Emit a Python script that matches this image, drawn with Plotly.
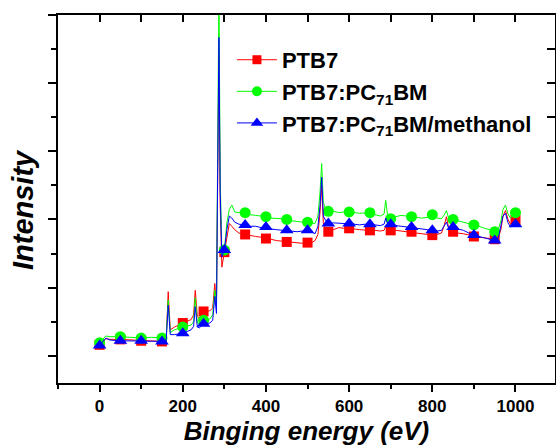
import plotly.graph_objects as go

# Binding energy grid (eV)
energy = [-5, 0, 15, 25, 50, 75, 100, 125, 150, 160, 165, 170, 180, 200, 220, 226, 230, 235, 240, 250,
          265, 272, 277, 281, 284, 287, 290, 294, 300, 306, 312, 318, 325, 335, 350, 362, 375, 388, 400,
          412, 425, 438, 450, 462, 475, 488, 500, 510, 518, 525, 530, 534, 538, 543, 550, 562, 575, 588,
          600, 612, 625, 638, 650, 662, 675, 684, 688, 692, 700, 712, 725, 738, 750, 762, 775, 788, 800,
          812, 822, 828, 834, 840, 850, 862, 875, 888, 900, 912, 925, 938, 950, 958, 965, 970, 976, 982,
          988, 994, 1000]

ptb7 = [0.16, 0.16, 0.25, 0.24, 0.24, 0.23, 0.22, 0.22, 0.21, 0.22, 0.94, 0.38, 0.42, 0.48, 0.53, 0.60,
        0.96, 0.58, 0.55, 0.65, 0.66, 0.70, 1.06, 0.75, 2.5, 4.4, 2.2, 1.30, 1.52, 1.75, 1.94, 1.90, 1.85,
        1.80, 1.78, 1.76, 1.75, 1.74, 1.72, 1.71, 1.69, 1.68, 1.67, 1.67, 1.66, 1.65, 1.66, 1.66, 1.69,
        1.78, 2.1, 2.5, 1.95, 1.86, 1.82, 1.85, 1.88, 1.87, 1.87, 1.86, 1.85, 1.84, 1.84, 1.84, 1.83, 1.84,
        1.90, 1.85, 1.84, 1.84, 1.83, 1.82, 1.82, 1.81, 1.80, 1.78, 1.77, 1.78, 1.80, 1.90, 2.04, 1.85,
        1.82, 1.80, 1.79, 1.77, 1.75, 1.74, 1.73, 1.72, 1.71, 1.72, 1.85, 2.05, 2.13, 2.0, 1.93, 1.96, 1.99]

ptb7_pcbm = [0.19, 0.19, 0.29, 0.28, 0.28, 0.27, 0.26, 0.27, 0.26, 0.27, 0.82, 0.34, 0.38, 0.42, 0.45,
             0.50, 0.85, 0.48, 0.47, 0.52, 0.54, 0.60, 0.96, 0.70, 3.0, 5.4, 2.6, 1.52, 1.55, 1.95, 2.15,
             2.21, 2.11, 2.10, 2.10, 2.07, 2.06, 2.05, 2.04, 2.02, 2.02, 2.01, 2.00, 1.98, 1.97, 1.96, 1.96,
             1.95, 1.94, 2.05, 2.4, 2.82, 2.25, 2.16, 2.12, 2.12, 2.10, 2.11, 2.11, 2.10, 2.09, 2.10, 2.10,
             2.07, 2.05, 2.08, 2.28, 2.08, 2.01, 2.04, 2.06, 2.05, 2.04, 2.03, 2.02, 2.03, 2.07, 2.02, 2.01,
             2.06, 2.13, 2.00, 2.00, 1.98, 1.96, 1.94, 1.92, 1.90, 1.87, 1.85, 1.82, 1.84, 1.98, 2.15, 2.21,
             2.08, 2.02, 2.06, 2.10]

ptb7_pcbm_meoh = [0.15, 0.15, 0.26, 0.23, 0.22, 0.22, 0.22, 0.21, 0.21, 0.21, 0.74, 0.31, 0.31, 0.33,
                  0.38, 0.43, 0.72, 0.42, 0.41, 0.47, 0.48, 0.52, 0.87, 0.62, 2.8, 4.67, 2.4, 1.45, 1.55,
                  1.85, 2.05, 2.02, 1.96, 1.93, 1.92, 1.90, 1.90, 1.88, 1.89, 1.86, 1.85, 1.84, 1.84, 1.83,
                  1.82, 1.83, 1.84, 1.82, 1.79, 1.90, 2.2, 2.62, 2.05, 1.99, 1.94, 1.95, 1.94, 1.94, 1.94,
                  1.93, 1.92, 1.93, 1.93, 1.92, 1.91, 1.93, 2.02, 1.95, 1.93, 1.91, 1.90, 1.89, 1.89, 1.87,
                  1.86, 1.85, 1.84, 1.83, 1.84, 1.90, 1.96, 1.86, 1.89, 1.86, 1.84, 1.80, 1.77, 1.75, 1.73,
                  1.71, 1.69, 1.71, 1.90, 2.05, 2.09, 1.95, 1.89, 1.91, 1.93]

series_names = ["PTB7", "PTB7:PC<sub>71</sub>BM", "PTB7:PC<sub>71</sub>BM/methanol"]
series_values = [ptb7, ptb7_pcbm, ptb7_pcbm_meoh]
series_colors = ["#FF0000", "#00FF00", "#0000FF"]
series_symbols = ["square", "circle", "triangle-up"]
series_sizes = [10, 11, 12]
marker_step = 50

x_tick_vals = [0, 200, 400, 600, 800, 1000]
x_tick_text = ["0", "200", "400", "600", "800", "1000"]

FONT = "Liberation Sans, Arial, sans-serif"

fig = go.Figure()

for name, vals, col, sym, sz in zip(series_names, series_values, series_colors, series_symbols, series_sizes):
    fig.add_trace(go.Scatter(x=energy, y=vals, mode="lines", line=dict(color=col, width=1),
                             showlegend=False, hoverinfo="skip"))
    mx = [e for e in energy if e >= 0 and e % marker_step == 0]
    my = [v for e, v in zip(energy, vals) if e >= 0 and e % marker_step == 0]
    fig.add_trace(go.Scatter(x=mx, y=my, mode="markers",
                             marker=dict(color=col, symbol=sym, size=sz, line=dict(width=0)),
                             showlegend=False, cliponaxis=False))

for name, col, sym, sz in zip(series_names, series_colors, series_symbols, series_sizes):
    fig.add_trace(go.Scatter(x=[None], y=[None], mode="lines+markers", name="<b>" + name + "</b>",
                             line=dict(color=col, width=1),
                             marker=dict(color=col, symbol=sym, size=sz - 1),
                             xaxis="x2", yaxis="y2"))

xr = [-100, 1095]
yr = [-0.4, 5.0]
axcol = "black"

fig.update_layout(
    width=556, height=448, autosize=False,
    margin=dict(l=58, r=1, t=15, b=65),
    paper_bgcolor="white", plot_bgcolor="white",
    font=dict(family=FONT, color="black"),
    xaxis=dict(range=xr, showline=True, linecolor=axcol, linewidth=2, showgrid=False, zeroline=False,
               ticks="outside", ticklen=7, tickwidth=1.5, tickcolor=axcol,
               tickvals=x_tick_vals, ticktext=["<b>%s</b>" % t for t in x_tick_text],
               tickfont=dict(family=FONT, size=17, color="black"),
               minor=dict(dtick=100, tick0=0, ticks="outside", ticklen=4, tickwidth=1.5, tickcolor=axcol),
               title=dict(text="<b><i>Binging energy (eV)</i></b>", font=dict(family=FONT, size=26),
                          standoff=5)),
    yaxis=dict(range=yr, showline=True, linecolor=axcol, linewidth=2, showgrid=False, zeroline=False,
               ticks="outside", ticklen=8, tickwidth=1.5, tickcolor=axcol, dtick=1, tick0=0,
               showticklabels=False,
               minor=dict(dtick=0.5, tick0=0, ticks="outside", ticklen=5, tickwidth=1.5, tickcolor=axcol)),
    xaxis2=dict(range=xr, overlaying="x", side="top", anchor="y2", showline=True, linecolor=axcol,
                linewidth=2, showgrid=False, zeroline=False, ticks="inside", ticklen=7, tickwidth=1.5,
                tickcolor=axcol, dtick=100, tick0=0, showticklabels=False),
    yaxis2=dict(range=yr, overlaying="y", side="right", anchor="x2", showline=True, linecolor=axcol,
                linewidth=2, showgrid=False, zeroline=False, ticks="inside", ticklen=8, tickwidth=1.5,
                tickcolor=axcol, dtick=0.5, tick0=0, showticklabels=False),
    legend=dict(x=0.35, y=0.935, xanchor="left", yanchor="top", bgcolor="rgba(0,0,0,0)",
                font=dict(family=FONT, size=22, color="black"), itemwidth=40, tracegroupgap=0),
    annotations=[dict(text="<b><i>Intensity</i></b>", textangle=-90, xref="paper", yref="paper",
                      x=-0.0704, y=0.47, xanchor="center", yanchor="middle", showarrow=False,
                      font=dict(family=FONT, size=29, color="black"))],
)

fig.write_html("out.html")
